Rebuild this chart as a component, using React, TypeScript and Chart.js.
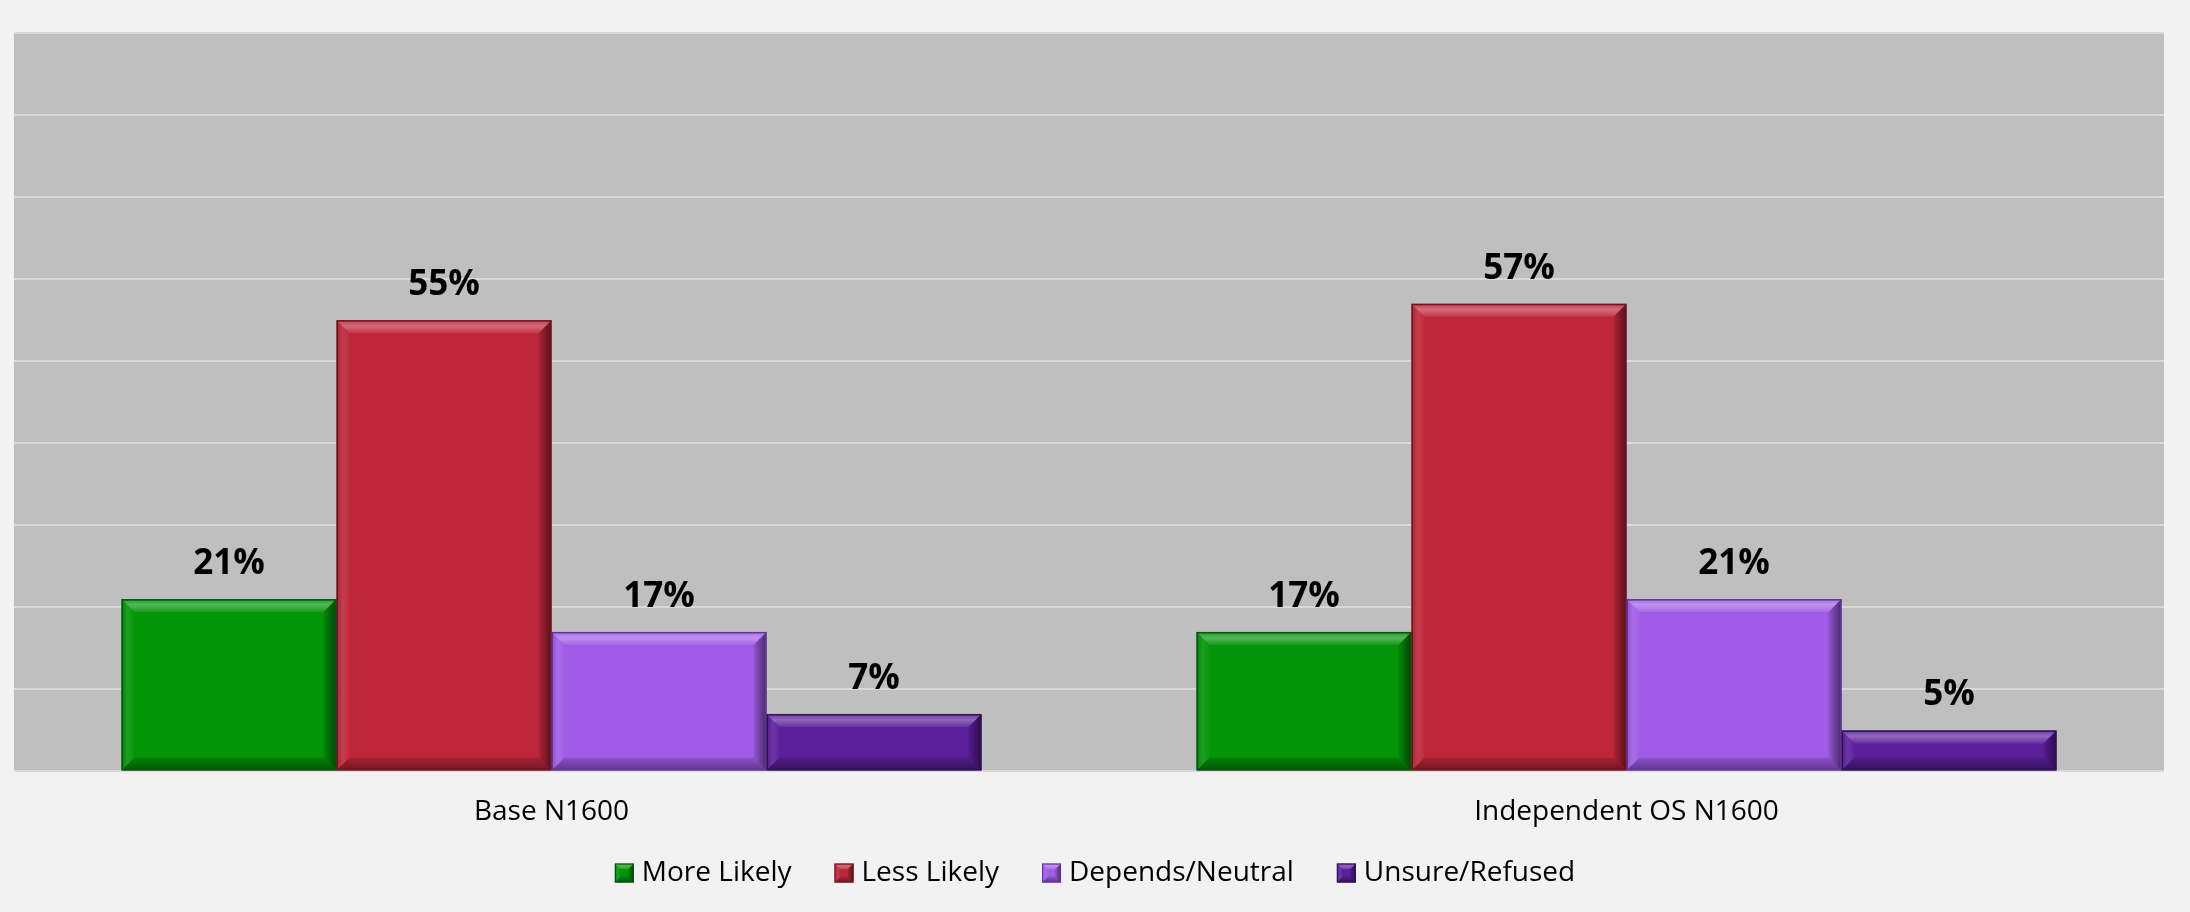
import React, { useEffect, useRef } from "react";
import { Chart, registerables } from "chart.js";

Chart.register(...registerables);

const categories = ["Base N1600", "Independent OS N1600"];
const seriesNames = ["More Likely", "Less Likely", "Depends/Neutral", "Unsure/Refused"];
const moreLikely = [21, 17];
const lessLikely = [55, 57];
const dependsNeutral = [17, 21];
const unsureRefused = [7, 5];
const seriesColors = ["#039408", "#be263a", "#a05ce6", "#5b1f9b"];
const seriesBorders = ["#0d4f10", "#6b1520", "#5e3595", "#2f0f55"];
const yMax = 90;
const yStep = 10;

const FONT = "'Open Sans', 'DejaVu Sans', sans-serif";

function drawBevel(ctx: CanvasRenderingContext2D, x0: number, y0: number, x1: number, y1: number, b: number, border: string, bw: number) {
  const w = x1 - x0;
  const h = y1 - y0;
  const bb = Math.min(b, w / 2, h / 2);
  ctx.save();
  let g = ctx.createLinearGradient(0, y0, 0, y0 + bb);
  g.addColorStop(0, "rgba(255,255,255,0.10)");
  g.addColorStop(0.45, "rgba(255,255,255,0.32)");
  g.addColorStop(1, "rgba(255,255,255,0.08)");
  ctx.fillStyle = g;
  ctx.beginPath();
  ctx.moveTo(x0, y0); ctx.lineTo(x1, y0); ctx.lineTo(x1 - bb, y0 + bb); ctx.lineTo(x0 + bb, y0 + bb); ctx.closePath();
  ctx.fill();
  g = ctx.createLinearGradient(x0, 0, x0 + bb, 0);
  g.addColorStop(0, "rgba(0,0,0,0.12)");
  g.addColorStop(0.5, "rgba(255,255,255,0.10)");
  g.addColorStop(1, "rgba(255,255,255,0.02)");
  ctx.fillStyle = g;
  ctx.beginPath();
  ctx.moveTo(x0, y0); ctx.lineTo(x0 + bb, y0 + bb); ctx.lineTo(x0 + bb, y1 - bb); ctx.lineTo(x0, y1); ctx.closePath();
  ctx.fill();
  g = ctx.createLinearGradient(x1 - bb, 0, x1, 0);
  g.addColorStop(0, "rgba(0,0,0,0.08)");
  g.addColorStop(1, "rgba(0,0,0,0.55)");
  ctx.fillStyle = g;
  ctx.beginPath();
  ctx.moveTo(x1, y0); ctx.lineTo(x1, y1); ctx.lineTo(x1 - bb, y1 - bb); ctx.lineTo(x1 - bb, y0 + bb); ctx.closePath();
  ctx.fill();
  g = ctx.createLinearGradient(0, y1 - bb, 0, y1);
  g.addColorStop(0, "rgba(0,0,0,0.12)");
  g.addColorStop(1, "rgba(0,0,0,0.40)");
  ctx.fillStyle = g;
  ctx.beginPath();
  ctx.moveTo(x0, y1); ctx.lineTo(x0 + bb, y1 - bb); ctx.lineTo(x1 - bb, y1 - bb); ctx.lineTo(x1, y1); ctx.closePath();
  ctx.fill();
  ctx.strokeStyle = border;
  ctx.lineWidth = bw;
  ctx.strokeRect(x0 + bw / 2, y0 + bw / 2, w - bw, h - bw);
  ctx.restore();
}

const plotBgPlugin = {
  id: "plotBg",
  beforeDraw(chart: any) {
    const { ctx, chartArea } = chart;
    ctx.save();
    ctx.fillStyle = "#f2f2f2";
    ctx.fillRect(0, 0, chart.width, chart.height);
    ctx.fillStyle = "#bfbfbf";
    ctx.fillRect(chartArea.left, chartArea.top, chartArea.right - chartArea.left, chartArea.bottom - chartArea.top);
    ctx.restore();
  },
};

const bevelPlugin = {
  id: "bevelBars",
  afterDatasetsDraw(chart: any) {
    const ctx = chart.ctx;
    chart.data.datasets.forEach((ds: any, di: number) => {
      const meta = chart.getDatasetMeta(di);
      meta.data.forEach((bar: any) => {
        const p = bar.getProps(["x", "y", "base", "width"], true);
        const x0 = p.x - p.width / 2;
        const x1 = p.x + p.width / 2;
        const y0 = Math.min(p.y, p.base);
        const y1 = Math.max(p.y, p.base);
        drawBevel(ctx, x0, y0, x1, y1, 13, seriesBorders[di], 1.5);
      });
    });
    ctx.save();
    ctx.font = `bold 35px ${FONT}`;
    ctx.fillStyle = "#000000";
    ctx.textAlign = "center";
    ctx.textBaseline = "middle";
    chart.data.datasets.forEach((ds: any, di: number) => {
      const meta = chart.getDatasetMeta(di);
      meta.data.forEach((bar: any, i: number) => {
        const p = bar.getProps(["x", "y"], true);
        ctx.fillText(`${ds.data[i]}%`, p.x, p.y - 35);
      });
    });
    ctx.restore();
  },
};

const legendPlugin = {
  id: "bevelLegend",
  afterDraw(chart: any) {
    const ctx = chart.ctx;
    const fontSize = 28;
    const bs = 19;
    const gap = 8;
    const spacing = 43;
    const cy = 873;
    ctx.save();
    ctx.font = `${fontSize}px ${FONT}`;
    const widths = seriesNames.map((n) => ctx.measureText(n).width);
    const total = widths.reduce((a, w) => a + bs + gap + w, 0) + spacing * (seriesNames.length - 1);
    let x = chart.width / 2 - total / 2;
    seriesNames.forEach((name, i) => {
      ctx.fillStyle = seriesColors[i];
      ctx.fillRect(x, cy - bs / 2, bs, bs);
      drawBevel(ctx, x, cy - bs / 2, x + bs, cy + bs / 2, 6, seriesBorders[i], 1);
      ctx.fillStyle = "#000000";
      ctx.textAlign = "left";
      ctx.textBaseline = "middle";
      ctx.fillText(name, x + bs + gap, cy);
      x += bs + gap + widths[i] + spacing;
    });
    ctx.restore();
  },
};

export default function App() {
  const canvasRef = useRef<HTMLCanvasElement | null>(null);

  useEffect(() => {
    const canvas = canvasRef.current;
    if (!canvas) return;
    const seriesData = [moreLikely, lessLikely, dependsNeutral, unsureRefused];
    const chart = new Chart(canvas, {
      type: "bar",
      data: {
        labels: categories,
        datasets: seriesNames.map((name, i) => ({
          label: name,
          data: seriesData[i],
          backgroundColor: seriesColors[i],
          borderWidth: 0,
          categoryPercentage: 0.8,
          barPercentage: 1.0,
        })),
      },
      options: {
        responsive: false,
        animation: false,
        maintainAspectRatio: false,
        layout: { padding: { left: 14, right: 26, top: 33, bottom: 59 } },
        plugins: {
          legend: { display: false },
          tooltip: { enabled: false },
        },
        scales: {
          x: {
            grid: { display: false, drawTicks: false },
            border: { display: false },
            ticks: {
              color: "#000000",
              padding: 24,
              font: { family: FONT, size: 28 },
            },
          },
          y: {
            min: 0,
            max: yMax,
            grid: { color: "#d9d9d9", lineWidth: 2, drawTicks: false },
            border: { display: false },
            ticks: { display: false, stepSize: yStep },
          },
        },
      },
      plugins: [plotBgPlugin, bevelPlugin, legendPlugin],
    });
    return () => chart.destroy();
  }, []);

  return (
    <div style={{ position: "absolute", left: 0, top: 0, width: 2190, height: 912, background: "#f2f2f2" }}>
      <canvas ref={canvasRef} width={2190} height={912} style={{ width: 2190, height: 912, display: "block" }} />
    </div>
  );
}
